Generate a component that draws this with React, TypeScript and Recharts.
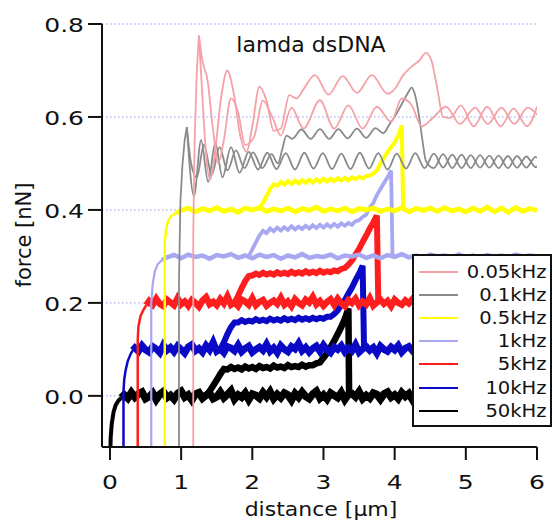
import { LineChart, Line, XAxis, YAxis, CartesianGrid, Legend } from 'recharts';

type Pt = [number, number];

const xTicks = [0, 1, 2, 3, 4, 5, 6];
const yTicks = [0, 0.2, 0.4, 0.6, 0.8];

const seriesNames = ['0.05kHz', '0.1kHz', '0.5kHz', '1kHz', '5kHz', '10kHz', '50kHz'];
const seriesColors = ['#f4a2a8', '#8a8a8a', '#ffff00', '#a8a8f2', '#ff1e1e', '#0a0ac6', '#000000'];

// 50kHz (black)
const k50Head: Pt[] = [[0.005, -0.125], [0.01, -0.09], [0.025, -0.06], [0.05, -0.035], [0.08, -0.02], [0.12, -0.01], [0.16, -0.004]];
const k50Base = [
  0.002, -0.005, 0.007, -0.003, 0.004, 0.008, -0.006, -0.002, 0.006, -0.008, 0.003, 0.009,
  -0.004, 0.001, -0.007, 0.005, 0.01, -0.003, 0.002, -0.009, 0.004, 0.007, -0.005, 0.001,
  0.006, -0.006, -0.002, 0.008, -0.004, 0.003, 0.011, -0.007, 0.002, -0.003, 0.006, -0.008,
  0.004, 0.001, -0.005, 0.007, -0.002, 0.009, -0.006, 0.003, -0.004, 0.006, 0.002, -0.009,
  0.005, -0.003, 0.008, -0.001, -0.006, 0.004, 0.01, -0.005, 0.002, -0.007, 0.006, 0.001,
  -0.004, 0.007, -0.008, 0.003, 0.005, -0.002, 0.009, -0.006, 0.001, -0.005, 0.006, 0.003,
  -0.007, 0.004, 0.008, -0.003, 0.002, -0.006, 0.007, -0.001, 0.005, -0.008, 0.003, 0.004,
];
const k50Pull = [
  0.0, 0.01, 0.022, 0.034, 0.047, 0.058, 0.057, 0.062, 0.058, 0.061, 0.057, 0.063, 0.059, 0.062,
  0.058, 0.064, 0.06, 0.062, 0.059, 0.065, 0.061, 0.063, 0.06, 0.066, 0.062, 0.064, 0.062, 0.067,
  0.063, 0.066, 0.066, 0.07, 0.072, 0.082, 0.092, 0.105, 0.118, 0.133, 0.148, 0.166, 0.188,
];
const k50Drop: Pt[] = [[3.36, 0.0]];

// 10kHz (blue)
const k10Head: Pt[] = [[0.19, -0.125], [0.19, 0.01], [0.2, 0.035], [0.22, 0.055], [0.25, 0.075], [0.29, 0.09], [0.32, 0.098]];
const k10Base = [
  0.103, 0.096, 0.108, 0.099, 0.094, 0.106, 0.101, 0.093, 0.109, 0.098, 0.104, 0.095,
  0.107, 0.1, 0.092, 0.105, 0.11, 0.097, 0.102, 0.094, 0.108, 0.099, 0.115, 0.096,
  0.101, 0.093, 0.106, 0.103, 0.097, 0.109, 0.095, 0.102, 0.107, 0.094, 0.1, 0.105,
  0.098, 0.111, 0.096, 0.103, 0.093, 0.108, 0.1, 0.095, 0.106, 0.101, 0.113, 0.097,
  0.104, 0.094, 0.102, 0.107, 0.096, 0.109, 0.099, 0.093, 0.105, 0.1, 0.108, 0.095,
  0.103, 0.097, 0.11, 0.094, 0.101, 0.106, 0.098, 0.104, 0.092, 0.107, 0.1, 0.096,
  0.105, 0.099, 0.108, 0.094, 0.102, 0.106, 0.097, 0.103, 0.1, 0.098,
];
const k10Pull = [
  0.1, 0.115, 0.133, 0.148, 0.158, 0.158, 0.163, 0.159, 0.162, 0.16, 0.165, 0.161, 0.164, 0.161,
  0.166, 0.162, 0.165, 0.162, 0.167, 0.163, 0.166, 0.163, 0.168, 0.164, 0.167, 0.164, 0.168, 0.165,
  0.168, 0.166, 0.17, 0.17, 0.176, 0.184, 0.196, 0.206, 0.22, 0.233, 0.249, 0.263, 0.28,
];
const k10Drop: Pt[] = [[3.57, 0.1]];

// 5kHz (red)
const k5Head: Pt[] = [[0.39, -0.125], [0.39, 0.12], [0.4, 0.15], [0.43, 0.172], [0.47, 0.185], [0.51, 0.195]];
const k5Base = [
  0.204, 0.196, 0.209, 0.198, 0.193, 0.207, 0.201, 0.195, 0.21, 0.197, 0.203, 0.194,
  0.206, 0.2, 0.192, 0.205, 0.212, 0.197, 0.202, 0.195, 0.208, 0.199, 0.214, 0.196,
  0.201, 0.193, 0.207, 0.203, 0.196, 0.21, 0.195, 0.202, 0.206, 0.194, 0.2, 0.205,
  0.198, 0.211, 0.196, 0.203, 0.193, 0.208, 0.2, 0.195, 0.207, 0.201, 0.213, 0.197,
  0.204, 0.194, 0.202, 0.208, 0.196, 0.209, 0.199, 0.193, 0.206, 0.2, 0.209, 0.195,
  0.203, 0.197, 0.21, 0.194, 0.201, 0.207, 0.198, 0.204, 0.193, 0.207, 0.2, 0.196,
  0.205, 0.199, 0.208, 0.195, 0.202, 0.206,
];
const k5Pull = [
  0.2, 0.215, 0.232, 0.247, 0.258, 0.259, 0.263, 0.26, 0.265, 0.261, 0.264, 0.261, 0.266, 0.262,
  0.265, 0.262, 0.267, 0.263, 0.266, 0.263, 0.268, 0.264, 0.267, 0.264, 0.269, 0.265, 0.268, 0.266,
  0.27, 0.268, 0.273, 0.275, 0.282, 0.291, 0.304, 0.316, 0.331, 0.345, 0.36, 0.373, 0.388,
];
const k5Drop: Pt[] = [[3.77, 0.2]];

// 1kHz (lavender)
const k1Head: Pt[] = [[0.58, -0.125], [0.58, 0.2], [0.6, 0.24], [0.63, 0.268], [0.67, 0.283], [0.73, 0.292]];
const k1Base = [
  0.298, 0.303, 0.296, 0.304, 0.299, 0.302, 0.295, 0.303, 0.3, 0.305,
  0.297, 0.302, 0.296, 0.304, 0.299, 0.303, 0.295, 0.302, 0.298, 0.305,
  0.297, 0.301, 0.299, 0.304, 0.296, 0.302, 0.3, 0.304, 0.297, 0.302,
  0.296, 0.303, 0.299, 0.305, 0.298, 0.302, 0.297, 0.304, 0.3, 0.302,
  0.297, 0.304, 0.298, 0.302, 0.297, 0.303, 0.299, 0.302, 0.298, 0.304,
  0.3, 0.302, 0.3,
];
const k1Pull = [
  0.3, 0.315, 0.33, 0.345, 0.355, 0.35, 0.36, 0.354, 0.362, 0.356, 0.363, 0.357, 0.365, 0.358,
  0.364, 0.359, 0.366, 0.36, 0.367, 0.361, 0.368, 0.362, 0.369, 0.363, 0.37, 0.364, 0.371, 0.366,
  0.372, 0.368, 0.376, 0.378, 0.385, 0.39, 0.405, 0.415, 0.432, 0.445, 0.458, 0.47, 0.485,
];
const k1Drop: Pt[] = [[3.97, 0.3]];

// 0.5kHz (yellow)
const k05Head: Pt[] = [[0.77, -0.125], [0.77, 0.33], [0.79, 0.36], [0.82, 0.378], [0.87, 0.388], [0.93, 0.393]];
const k05Base = [
  0.399, 0.404, 0.396, 0.403, 0.398, 0.405, 0.397, 0.402, 0.395, 0.404,
  0.4, 0.405, 0.397, 0.402, 0.398, 0.404, 0.396, 0.403, 0.399, 0.406,
  0.397, 0.402, 0.398, 0.404, 0.396, 0.403, 0.4, 0.404, 0.397, 0.402,
  0.398, 0.405, 0.396, 0.403, 0.399, 0.404, 0.397, 0.405, 0.398, 0.402,
  0.396, 0.404, 0.397, 0.406, 0.396, 0.404, 0.395, 0.405, 0.397, 0.403,
  0.399,
];
const k05Pull = [
  0.403, 0.415, 0.43, 0.445, 0.455, 0.452, 0.46, 0.455, 0.462, 0.456, 0.463, 0.457, 0.464, 0.458,
  0.465, 0.459, 0.466, 0.46, 0.467, 0.461, 0.467, 0.462, 0.468, 0.463, 0.469, 0.464, 0.47, 0.466,
  0.471, 0.468, 0.473, 0.474, 0.478, 0.485, 0.5, 0.512, 0.525, 0.535, 0.545, 0.56, 0.582,
];
const k05Drop: Pt[] = [[4.12, 0.4]];

// 0.1kHz (gray)
const k01Head: Pt[] = [[0.97, -0.125], [0.97, 0.25], [0.99, 0.42], [1.02, 0.5], [1.05, 0.55], [1.08, 0.578]];
const k01Ret: Pt[] = [
  [1.08, 0.578], [1.18, 0.43], [1.28, 0.55], [1.38, 0.46], [1.48, 0.545], [1.58, 0.47], [1.7, 0.535],
  [1.82, 0.48], [1.95, 0.525], [2.08, 0.487], [2.21, 0.523], [2.34, 0.488], [2.47, 0.522], [2.6, 0.487],
  [2.73, 0.523], [2.86, 0.489], [2.99, 0.522], [3.12, 0.488], [3.25, 0.521], [3.38, 0.488], [3.51, 0.523],
  [3.64, 0.489], [3.77, 0.522], [3.9, 0.487], [4.03, 0.521], [4.16, 0.489], [4.29, 0.522], [4.42, 0.49],
  [4.55, 0.521], [4.68, 0.491], [4.81, 0.519], [4.94, 0.49], [5.07, 0.518], [5.2, 0.491], [5.33, 0.517],
  [5.46, 0.49], [5.59, 0.516], [5.72, 0.491], [5.85, 0.515], [5.98, 0.492], [6.0, 0.494],
];
const k01Pull: Pt[] = [
  [1.08, 0.578], [1.14, 0.5], [1.22, 0.47], [1.32, 0.54], [1.43, 0.475], [1.54, 0.535], [1.65, 0.485],
  [1.77, 0.528], [1.89, 0.49], [2.01, 0.524], [2.14, 0.49], [2.27, 0.52], [2.36, 0.5], [2.42, 0.53],
  [2.48, 0.56], [2.56, 0.553], [2.69, 0.573], [2.82, 0.553], [2.95, 0.574], [3.08, 0.553], [3.21, 0.574],
  [3.34, 0.554], [3.47, 0.575], [3.6, 0.555], [3.73, 0.576], [3.84, 0.565], [3.93, 0.585], [4.02, 0.605],
  [4.1, 0.628], [4.18, 0.65], [4.24, 0.663], [4.29, 0.645], [4.34, 0.605], [4.39, 0.55], [4.44, 0.505],
  [4.55, 0.49], [4.68, 0.52], [4.81, 0.49], [4.94, 0.519], [5.07, 0.49], [5.2, 0.518], [5.33, 0.491],
  [5.46, 0.517], [5.59, 0.49], [5.72, 0.516], [5.85, 0.491], [5.98, 0.514], [6.0, 0.512],
];

// 0.05kHz (pink)
const k005Head: Pt[] = [[1.17, -0.125], [1.17, 0.35], [1.19, 0.55], [1.22, 0.7], [1.25, 0.775]];
const k005Pull: Pt[] = [
  [1.25, 0.775], [1.3, 0.64], [1.35, 0.52], [1.41, 0.465], [1.48, 0.53], [1.56, 0.64], [1.65, 0.7],
  [1.74, 0.65], [1.83, 0.56], [1.92, 0.525], [2.0, 0.58], [2.1, 0.665], [2.2, 0.635], [2.3, 0.57],
  [2.4, 0.575], [2.52, 0.647], [2.62, 0.64], [2.72, 0.66], [2.88, 0.69], [3.07, 0.648], [3.27, 0.688],
  [3.47, 0.652], [3.68, 0.69], [3.9, 0.65], [4.0, 0.66], [4.12, 0.69], [4.25, 0.71], [4.35, 0.722],
  [4.44, 0.738], [4.52, 0.72], [4.6, 0.66], [4.68, 0.6], [4.78, 0.598], [4.93, 0.625], [5.11, 0.58],
  [5.3, 0.622], [5.49, 0.58], [5.67, 0.618], [5.86, 0.58], [6.0, 0.622],
];
const k005Ret: Pt[] = [
  [1.25, 0.775], [1.3, 0.72], [1.37, 0.68], [1.45, 0.57], [1.52, 0.5], [1.6, 0.55], [1.7, 0.64],
  [1.8, 0.61], [1.9, 0.54], [2.02, 0.555], [2.15, 0.635], [2.28, 0.6], [2.4, 0.56], [2.55, 0.62],
  [2.72, 0.575], [2.95, 0.636], [3.15, 0.575], [3.35, 0.625], [3.55, 0.575], [3.75, 0.622], [3.95, 0.59],
  [4.1, 0.64], [4.24, 0.625], [4.38, 0.58], [4.55, 0.6], [4.72, 0.622], [4.92, 0.585], [5.13, 0.62],
  [5.31, 0.585], [5.5, 0.62], [5.68, 0.585], [5.87, 0.62], [6.0, 0.605],
];

const pts = (list: Pt[]) => list.map(([x, y]) => ({ x, y }));
const onGrid = (start: number, step: number, ys: number[]) =>
  ys.map((y, i) => ({ x: +(start + i * step).toFixed(3), y }));
const lastOf = (list: Pt[]) => pts(list.slice(-1));

const FONT = '"DejaVu Sans", Verdana, sans-serif';

const traces = [
  { color: seriesColors[6], w: 4, type: 'linear', data: pts(k50Head) },
  { color: seriesColors[6], w: 7.5, type: 'linear', data: [...lastOf(k50Head), ...onGrid(0.2, 0.05, k50Base)] },
  { color: seriesColors[6], w: 6.5, type: 'linear', data: [...onGrid(1.35, 0.05, k50Pull), ...pts(k50Drop)] },
  { color: seriesColors[5], w: 2.5, type: 'linear', data: pts(k10Head) },
  { color: seriesColors[5], w: 7, type: 'linear', data: [...lastOf(k10Head), ...onGrid(0.35, 0.05, k10Base)] },
  { color: seriesColors[5], w: 6, type: 'linear', data: [...onGrid(1.55, 0.05, k10Pull), ...pts(k10Drop)] },
  { color: seriesColors[4], w: 2.5, type: 'linear', data: pts(k5Head) },
  { color: seriesColors[4], w: 6.5, type: 'linear', data: [...lastOf(k5Head), ...onGrid(0.55, 0.05, k5Base)] },
  { color: seriesColors[4], w: 6, type: 'linear', data: [...onGrid(1.75, 0.05, k5Pull), ...pts(k5Drop)] },
  { color: seriesColors[3], w: 2.2, type: 'linear', data: pts(k1Head) },
  { color: seriesColors[3], w: 4.5, type: 'linear', data: [...lastOf(k1Head), ...onGrid(0.8, 0.1, k1Base)] },
  { color: seriesColors[3], w: 3.8, type: 'linear', data: [...onGrid(1.95, 0.05, k1Pull), ...pts(k1Drop)] },
  { color: seriesColors[2], w: 2.5, type: 'linear', data: pts(k05Head) },
  { color: seriesColors[2], w: 4.8, type: 'linear', data: [...lastOf(k05Head), ...onGrid(1.0, 0.1, k05Base)] },
  { color: seriesColors[2], w: 4, type: 'linear', data: [...onGrid(2.1, 0.05, k05Pull), ...pts(k05Drop)] },
  { color: seriesColors[1], w: 1.8, type: 'linear', data: pts(k01Head) },
  { color: seriesColors[1], w: 1.8, type: 'monotone', data: pts(k01Ret) },
  { color: seriesColors[1], w: 1.8, type: 'monotone', data: pts(k01Pull) },
  { color: seriesColors[0], w: 1.8, type: 'linear', data: pts(k005Head) },
  { color: seriesColors[0], w: 1.8, type: 'monotone', data: pts(k005Ret) },
  { color: seriesColors[0], w: 1.8, type: 'monotone', data: pts(k005Pull) },
];

const XTick = (props: any) => {
  const { x, y, payload } = props;
  return (
    <g transform={`translate(${x},${y})`}>
      <text transform="scale(1.25,1)" textAnchor="middle" y={29} fontSize={20} fontFamily={FONT} fill="#111">
        {payload.value}
      </text>
    </g>
  );
};

const YTick = (props: any) => {
  const { x, y, payload } = props;
  return (
    <g transform={`translate(${x},${y})`}>
      <text transform="scale(1.25,1)" textAnchor="end" y={8} fontSize={20} fontFamily={FONT} fill="#111">
        {payload.value.toFixed(1)}
      </text>
    </g>
  );
};

const LegendBox = () => (
  <div
    style={{
      boxSizing: 'border-box',
      width: 140,
      height: 173,
      border: '2px solid #111',
      background: '#fff',
      paddingTop: 4,
      fontFamily: FONT,
      fontSize: 17,
      color: '#111',
    }}
  >
    {seriesNames.map((name, i) => (
      <div key={name} style={{ display: 'flex', alignItems: 'center', height: 23.2 }}>
        <span style={{ width: 39, marginLeft: 5, borderTop: `2.5px solid ${seriesColors[i]}` }} />
        <span style={{ flex: 1, textAlign: 'right', paddingRight: 3, transform: 'scaleX(1.15)', transformOrigin: 'right center' }}>
          {name}
        </span>
      </div>
    ))}
  </div>
);

export default function App() {
  return (
    <div style={{ position: 'absolute', left: 0, top: 0, width: 553, height: 524, background: '#fff' }}>
      <LineChart width={553} height={524} margin={{ top: 24, right: 16, bottom: 37, left: 42 }}>
        <CartesianGrid horizontal vertical={false} stroke="#9c9de6" strokeDasharray="1.5 2.5" />
        <XAxis
          type="number"
          dataKey="x"
          domain={[-0.112, 6]}
          ticks={xTicks}
          allowDataOverflow
          height={40}
          tickSize={13}
          tickMargin={0}
          axisLine={{ stroke: '#111', strokeWidth: 2 }}
          tickLine={{ stroke: '#111', strokeWidth: 2 }}
          tick={<XTick />}
        />
        <YAxis
          type="number"
          domain={[-0.11, 0.8]}
          ticks={yTicks}
          allowDataOverflow
          width={60}
          tickSize={14}
          tickMargin={4}
          axisLine={{ stroke: '#111', strokeWidth: 2 }}
          tickLine={{ stroke: '#111', strokeWidth: 2 }}
          tick={<YTick />}
        />
        {traces.map((t, i) => (
          <Line
            key={i}
            data={t.data}
            dataKey="y"
            type={t.type as any}
            stroke={t.color}
            strokeWidth={t.w}
            dot={false}
            activeDot={false}
            legendType="none"
            isAnimationActive={false}
          />
        ))}
        <Legend
          layout="vertical"
          align="center"
          verticalAlign="middle"
          wrapperStyle={{ left: 412, top: 254, width: 140, height: 173 }}
          content={() => <LegendBox />}
        />
        <text x={311} y={52} textAnchor="middle" fontSize={22} fontFamily={FONT} fill="#111">
          lamda dsDNA
        </text>
        <text transform="translate(321,516) scale(1.1,1)" textAnchor="middle" fontSize={20} fontFamily={FONT} fill="#111">
          distance [μm]
        </text>
        <text transform="translate(31,235) rotate(-90)" textAnchor="middle" fontSize={21} fontFamily={FONT} fill="#111">
          force [nN]
        </text>
      </LineChart>
    </div>
  );
}
